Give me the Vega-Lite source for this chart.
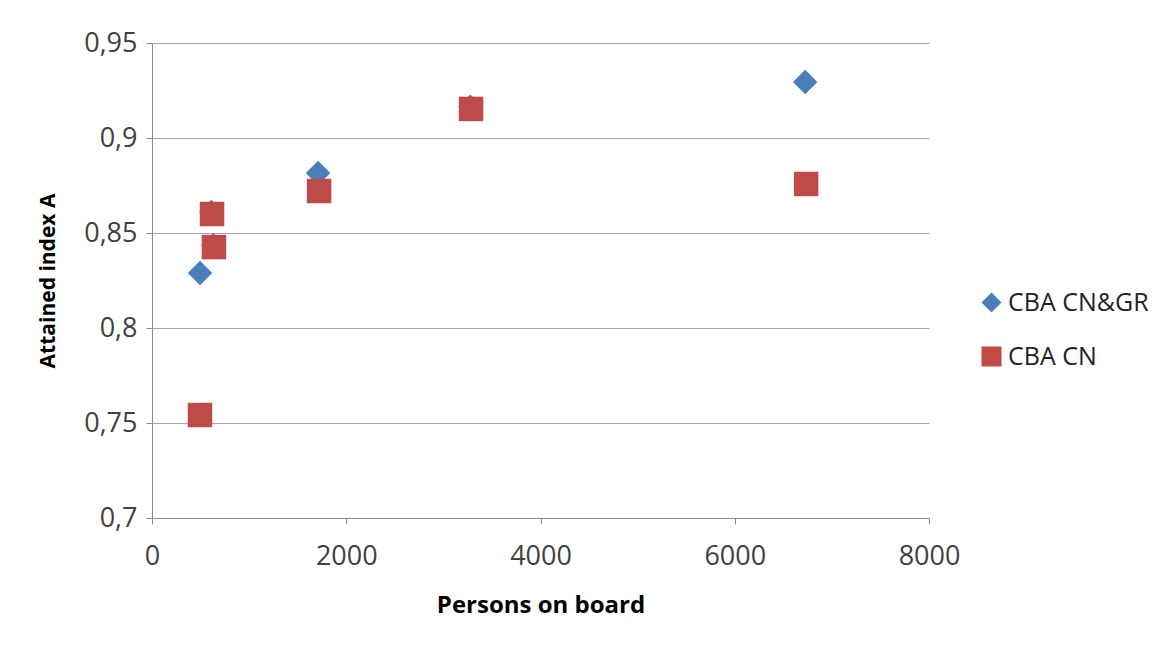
{
  "$schema": "https://vega.github.io/schema/vega-lite/v6.json",
  "width": 777,
  "height": 475,
  "autosize": {"type": "none"},
  "padding": {"left": 152, "top": 43, "right": 236, "bottom": 132},
  "background": "white",
  "config": {
    "view": {"stroke": null},
    "font": "Open Sans",
    "axis": {
      "labelFont": "Open Sans",
      "titleFont": "Open Sans",
      "labelColor": "#404040",
      "titleColor": "#000000",
      "domainColor": "#8c8c8c",
      "tickColor": "#8c8c8c",
      "gridColor": "#a6a6a6",
      "labelFontSize": 27,
      "titleFontWeight": "bold",
      "tickSize": 6
    }
  },
  "data": {
    "values": [
      {"persons": 494, "index": 0.829, "series": "CBA CN&GR"},
      {"persons": 612, "index": 0.861, "series": "CBA CN&GR"},
      {"persons": 632, "index": 0.8435, "series": "CBA CN&GR"},
      {"persons": 1710, "index": 0.8816, "series": "CBA CN&GR"},
      {"persons": 3278, "index": 0.9165, "series": "CBA CN&GR"},
      {"persons": 6725, "index": 0.9295, "series": "CBA CN&GR"},
      {"persons": 494, "index": 0.7542, "series": "CBA CN"},
      {"persons": 618, "index": 0.86, "series": "CBA CN"},
      {"persons": 638, "index": 0.8426, "series": "CBA CN"},
      {"persons": 1720, "index": 0.8721, "series": "CBA CN"},
      {"persons": 3285, "index": 0.9153, "series": "CBA CN"},
      {"persons": 6735, "index": 0.8758, "series": "CBA CN"}
    ]
  },
  "mark": {"type": "point", "filled": true, "opacity": 1, "size": 600},
  "encoding": {
    "x": {
      "field": "persons",
      "type": "quantitative",
      "title": "Persons on board",
      "scale": {"domain": [0, 8000], "nice": false, "zero": false},
      "axis": {"values": [0, 2000, 4000, 6000, 8000], "format": "d", "labelFlush": false, "grid": false, "labelPadding": 19, "titlePadding": 24, "titleFontSize": 24}
    },
    "y": {
      "field": "index",
      "type": "quantitative",
      "title": "Attained index A",
      "scale": {"domain": [0.7, 0.95], "nice": false, "zero": false},
      "axis": {
        "values": [0.7, 0.75, 0.8, 0.85, 0.9, 0.95],
        "labelExpr": "replace(format(datum.value, '.2~f'), '.', ',')",
        "labelFlush": false,
        "labelPadding": 9,
        "titlePadding": 25,
        "titleFontSize": 21,
        "grid": true
      }
    },
    "color": {
      "field": "series",
      "type": "nominal",
      "scale": {"domain": ["CBA CN&GR", "CBA CN"], "range": ["#4a7ebb", "#be4b48"]},
      "legend": {
        "title": null,
        "orient": "none",
        "legendX": 827,
        "legendY": 247,
        "symbolSize": 400,
        "labelFontSize": 25,
        "labelFont": "Open Sans",
        "labelColor": "#222222",
        "rowPadding": 28,
        "labelOffset": 4
      }
    },
    "shape": {
      "field": "series",
      "type": "nominal",
      "scale": {"domain": ["CBA CN&GR", "CBA CN"], "range": ["diamond", "square"]},
      "legend": null
    }
  }
}
